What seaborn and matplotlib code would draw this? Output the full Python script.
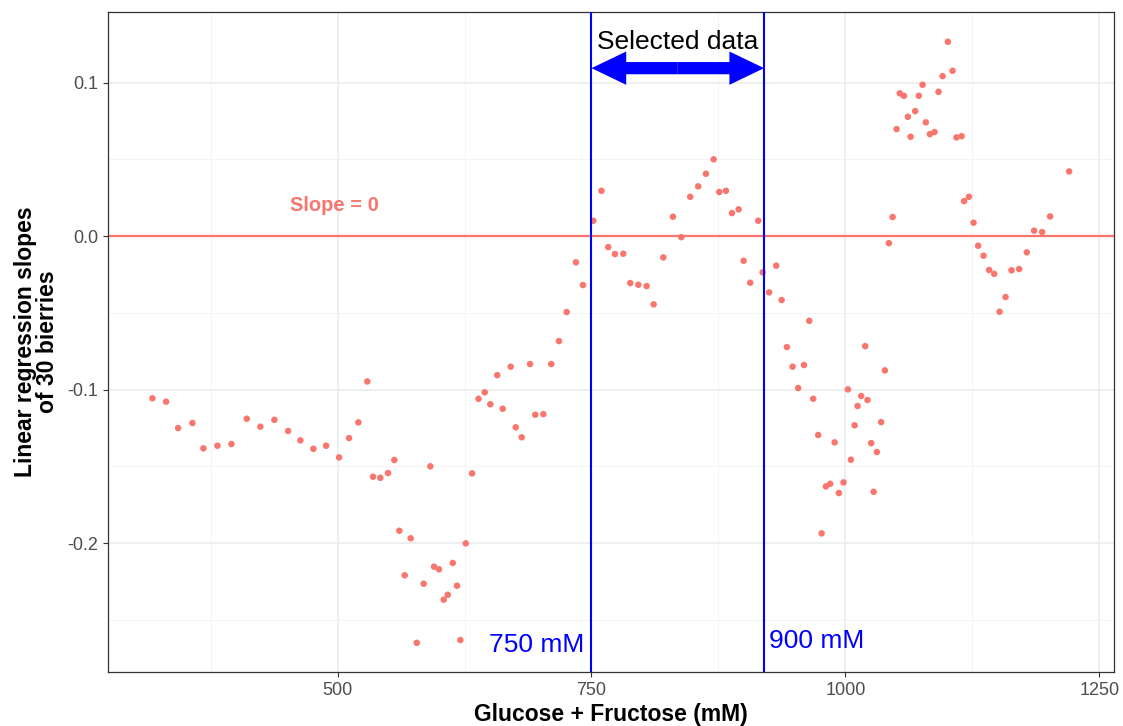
import numpy as np
import pandas as pd
import matplotlib
matplotlib.use("Agg")
import matplotlib.pyplot as plt
from matplotlib.patches import FancyArrowPatch
from matplotlib.ticker import MultipleLocator
import seaborn as sns

# ---- data ----
sugar_mM = [317.7, 331.2, 343.0, 357.1, 367.9, 381.7, 395.5, 410.6, 424.0, 437.8,
            451.3, 463.4, 476.2, 488.7, 501.5, 511.3, 520.5, 529.3, 534.9, 542.1,
            549.7, 555.9, 560.8, 566.1, 572.0, 578.0, 584.8, 591.3, 595.0, 599.9,
            604.5, 608.5, 613.4, 617.6, 620.9, 626.2, 632.4, 638.8, 644.9, 650.4,
            657.2, 662.6, 670.5, 675.4, 681.3, 689.5, 694.7, 702.6, 710.4, 718.0,
            725.6, 734.7, 741.6, 751.8, 759.8, 766.5, 773.1, 781.3, 788.2, 796.1,
            804.3, 811.2, 820.7, 830.2, 838.4, 847.2, 855.1, 862.7, 870.3, 875.8,
            882.4, 888.3, 894.9, 899.8, 906.3, 914.2, 918.5, 924.9, 931.9, 937.2,
            942.4, 948.0, 953.5, 959.2, 964.4, 968.3, 973.2, 976.6, 980.8, 985.0,
            989.4, 993.6, 998.2, 1002.5, 1005.4, 1009.1, 1012.0, 1015.6, 1019.5, 1021.8,
            1025.4, 1027.8, 1031.0, 1035.2, 1038.9, 1042.8, 1046.5, 1050.4, 1053.6, 1057.6,
            1061.5, 1064.2, 1068.7, 1072.3, 1076.0, 1079.2, 1083.2, 1087.8, 1091.7, 1095.7,
            1100.9, 1105.5, 1109.4, 1114.4, 1116.9, 1121.6, 1126.2, 1130.7, 1136.0, 1141.5,
            1146.5, 1151.8, 1157.7, 1163.6, 1171.1, 1178.6, 1185.8, 1193.7, 1201.6, 1220.3]

slopes = [-0.1057, -0.1079, -0.1251, -0.1218, -0.1383, -0.1366, -0.1355, -0.1190, -0.1242, -0.1197,
          -0.1270, -0.1331, -0.1386, -0.1366, -0.1442, -0.1316, -0.1214, -0.0947, -0.1568, -0.1575,
          -0.1544, -0.1459, -0.1920, -0.2210, -0.1969, -0.2650, -0.2265, -0.1500, -0.2154, -0.2171,
          -0.2369, -0.2337, -0.2130, -0.2278, -0.2632, -0.2002, -0.1546, -0.1060, -0.1018, -0.1096,
          -0.0906, -0.1125, -0.0851, -0.1246, -0.1311, -0.0834, -0.1164, -0.1160, -0.0834, -0.0684,
          -0.0495, -0.0171, -0.0319, 0.0100, 0.0295, -0.0072, -0.0117, -0.0115, -0.0306, -0.0317,
          -0.0326, -0.0445, -0.0139, 0.0126, -0.0007, 0.0256, 0.0324, 0.0406, 0.0500, 0.0287,
          0.0295, 0.0150, 0.0174, -0.0161, -0.0304, 0.0100, -0.0236, -0.0367, -0.0193, -0.0417,
          -0.0723, -0.0851, -0.0990, -0.0840, -0.0552, -0.1060, -0.1296, -0.1937, -0.1631, -0.1614,
          -0.1344, -0.1674, -0.1605, -0.0999, -0.1457, -0.1233, -0.1107, -0.1042, -0.0717, -0.1068,
          -0.1349, -0.1666, -0.1407, -0.1212, -0.0875, -0.0046, 0.0124, 0.0697, 0.0930, 0.0914,
          0.0777, 0.0647, 0.0814, 0.0914, 0.0986, 0.0741, 0.0664, 0.0678, 0.0940, 0.1042,
          0.1266, 0.1077, 0.0643, 0.0651, 0.0228, 0.0256, 0.0087, -0.0063, -0.0128, -0.0221,
          -0.0246, -0.0493, -0.0397, -0.0223, -0.0215, -0.0106, 0.0035, 0.0026, 0.0128, 0.0421]

sel_low = 750      # left vertical line (mM)
sel_high = 920     # right vertical line as drawn (labelled "900 mM")
x_ticks = [500, 750, 1000, 1250]
y_ticks = [-0.2, -0.1, 0.0, 0.1]
y_tick_labels = ["-0.2", "-0.1", "0.0", "0.1"]

df = pd.DataFrame({"sugar": sugar_mM, "slope": slopes})

# ---- style ----
sns.set_theme(style="white")
plt.rcParams["font.family"] = ["Liberation Sans", "DejaVu Sans"]

SALMON = "#F8766D"
BLUE = "#0000FF"

fig = plt.figure(figsize=(11.23, 7.26), dpi=100)
ax = fig.add_axes([0.0962, 0.0744, 0.8958, 0.9091])

# grid (ggplot theme_bw-like)
ax.set_axisbelow(True)
ax.xaxis.set_minor_locator(MultipleLocator(125))
ax.yaxis.set_minor_locator(MultipleLocator(0.05))
ax.grid(which="major", color="#EBEBEB", linewidth=1.1)
ax.grid(which="minor", color="#F3F3F3", linewidth=0.6)

ax.axhline(0, color=SALMON, linewidth=1.6, zorder=2)
sns.scatterplot(data=df, x="sugar", y="slope", color=SALMON, s=22,
                edgecolor="none", ax=ax, zorder=3, legend=False)

ax.axvline(sel_low, color=BLUE, linewidth=1.5, zorder=4)
ax.axvline(sel_high, color=BLUE, linewidth=1.5, zorder=4)

# double arrow "Selected data"
mid = (sel_low + sel_high) / 2
arrow_y = 0.1094
style = "simple,head_length=25,head_width=24,tail_width=8.8"
for end in (sel_low, sel_high):
    ax.add_patch(FancyArrowPatch((mid, arrow_y), (end, arrow_y), arrowstyle=style,
                                 mutation_scale=1, color=BLUE, lw=0,
                                 shrinkA=0, shrinkB=0, zorder=5))
ax.text(mid, 0.1262, "Selected data", ha="center", va="center", fontsize=19,
        color="black", zorder=6)

ax.text(497, 0.0202, "Slope = 0", ha="center", va="center", fontsize=14.5,
        fontweight="bold", color=SALMON)
ax.text(sel_low - 7, -0.2662, "750 mM", ha="right", va="center", fontsize=19, color=BLUE)
ax.text(sel_high + 5, -0.2638, "900 mM", ha="left", va="center", fontsize=19, color=BLUE)

ax.set_xlim(274, 1264.5)
ax.set_ylim(-0.284, 0.146)
ax.set_xticks(x_ticks)
ax.set_xticklabels([str(t) for t in x_ticks])
ax.set_yticks(y_ticks)
ax.set_yticklabels(y_tick_labels)

ax.tick_params(axis="both", which="major", length=3.5, width=0.8, color="#333333",
               labelsize=13, labelcolor="#4D4D4D", direction="out", bottom=True, left=True)
ax.tick_params(axis="both", which="minor", length=0)

for sp in ax.spines.values():
    sp.set_color("#333333")
    sp.set_linewidth(0.9)

title_font = dict(family=["Liberation Sans Narrow", "Liberation Sans", "DejaVu Sans"],
                  fontsize=16.5, fontweight="bold", color="black")
ax.set_xlabel("Glucose + Fructose (mM)", labelpad=3, **title_font)
ax.set_ylabel("Linear regression slopes\nof 30 bierries", labelpad=6,
              linespacing=0.95, **title_font)

fig.savefig("out.png", dpi=100)
